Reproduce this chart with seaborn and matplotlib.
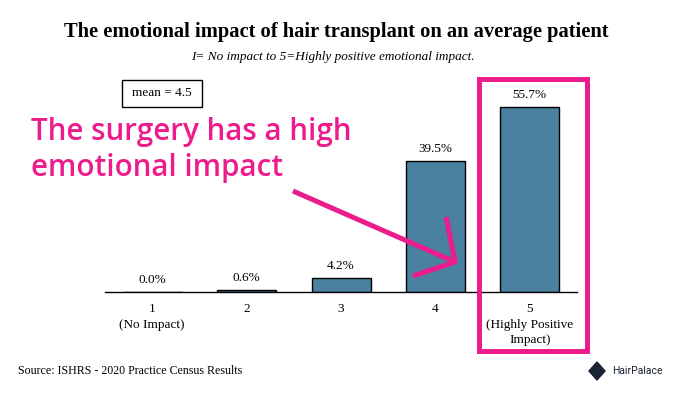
import matplotlib
matplotlib.use("Agg")
import matplotlib.pyplot as plt
from matplotlib.patches import Rectangle
from matplotlib.lines import Line2D
import seaborn as sns
import pandas as pd

categories = ["1\n(No Impact)", "2", "3", "4", "5\n(Highly Positive\nImpact)"]
values = [0.0, 0.6, 4.2, 39.5, 55.7]
value_labels = ["0.0%", "0.6%", "4.2%", "39.5%", "55.7%"]

title = "The emotional impact of hair transplant on an average patient"
subtitle = "I= No impact to 5=Highly positive emotional impact."
mean_text = "mean = 4.5"
callout_lines = ["The surgery has a high", "emotional impact"]
source = "Source: ISHRS - 2020 Practice Census Results"
brand = "HairPalace"

BAR = "#4B81A0"
PINK = "#EC1C8C"
SERIF = "Liberation Serif"

sns.set_theme(style="white")
plt.rcParams["font.family"] = [SERIF, "DejaVu Serif"]
plt.rcParams["text.color"] = "black"
plt.rcParams["xtick.color"] = "black"
plt.rcParams["xtick.labelcolor"] = "black"

W, H = 673, 395
fig = plt.figure(figsize=(W / 100, H / 100), dpi=100)
fig.patch.set_facecolor("white")

def fx(px):
    return px / W

def fy(py):
    return 1 - py / H

ax = fig.add_axes([fx(105), fy(292), fx(577) - fx(105), fy(93) - fy(292)])
df = pd.DataFrame({"cat": categories, "val": values})
sns.barplot(data=df, x="cat", y="val", color=BAR, saturation=1, width=0.625,
            edgecolor="black", linewidth=1.0, ax=ax)
ax.set_xlim(-0.5, 4.5)
ax.set_ylim(0, 60)
for s in ["top", "left", "right"]:
    ax.spines[s].set_visible(False)
ax.spines["bottom"].set_color("black")
ax.spines["bottom"].set_linewidth(1.0)
ax.set_yticks([])
ax.set_xlabel("")
ax.set_ylabel("")
ax.set_xticks(range(len(categories)))
ax.set_xticklabels(categories, fontsize=9.5, family=SERIF, linespacing=1.38, color="black")
ax.tick_params(axis="x", which="major", length=0, pad=8)
ax.set_xticks([i - 0.5 for i in range(len(categories) + 1)], minor=True)
ax.tick_params(axis="x", which="minor", length=4, width=1, color="black", direction="out")
for i, (v, lab) in enumerate(zip(values, value_labels)):
    ax.annotate(lab, (i, v), xytext=(0, 12), textcoords="offset pixels",
                ha="center", va="center", fontsize=9.5, family=SERIF, color="black")

fig.text(fx(336), fy(32), title, ha="center", va="center", fontsize=14.8,
         fontweight="bold", family=SERIF, color="black")
fig.text(fx(333), fy(57), subtitle, ha="center", va="center", fontsize=9.5,
         style="italic", family=SERIF, color="black")

# mean box
fig.patches.append(Rectangle((fx(122), fy(107)), fx(202) - fx(122), fy(80) - fy(107),
                             transform=fig.transFigure, fill=False, edgecolor="black", lw=1))
fig.text(fx(162), fy(93.5), mean_text, ha="center", va="center", fontsize=9.5, family=SERIF)

# pink callout
for line, base in zip(callout_lines, [140, 176]):
    fig.text(fx(31), fy(base), line, ha="left", va="baseline", fontsize=21.3,
             fontweight="semibold", family=["Open Sans", "DejaVu Sans"], color=PINK)

# arrow
arrow_kw = dict(transform=fig.transFigure, color=PINK, lw=3.6, solid_capstyle="butt")
fig.lines.append(Line2D([fx(293), fx(455)], [fy(191), fy(262)], **arrow_kw))
fig.lines.append(Line2D([fx(446), fx(455), fx(413)], [fy(217), fy(262), fy(276)], **arrow_kw))

# pink highlight box
fig.patches.append(Rectangle((fx(478.5), fy(350.5)), fx(586.5) - fx(478.5), fy(78.5) - fy(350.5),
                             transform=fig.transFigure, fill=False, edgecolor=PINK, lw=3.6))

fig.text(fx(18), fy(371), source, ha="left", va="center", fontsize=8.6, family=SERIF)

# brand
fig.patches.append(plt.Polygon([(fx(589), fy(371)), (fx(597), fy(362)),
                                (fx(605), fy(371)), (fx(597), fy(380))],
                               closed=True, transform=fig.transFigure, color="#1a2233"))
fig.text(fx(612), fy(371), brand, ha="left", va="center", fontsize=7.5,
         family=["Roboto", "DejaVu Sans"], color="#1a2233")

fig.savefig("out.png", dpi=100, facecolor="white")
